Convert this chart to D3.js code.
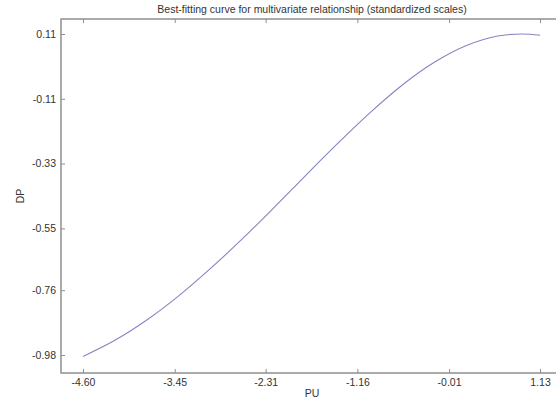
<!DOCTYPE html>
<html lang="en">
  <head>
    <meta charset="UTF-8" />
    <title>Best-fitting curve</title>
    <script src="https://d3js.org/d3.v7.min.js"></script>
    <style>
      body {
        margin: 0;
        background: #fff;
        font-family: "Liberation Sans", Arial, sans-serif;
      }
      .tick-label {
        font-size: 10.5px;
        fill: #333;
      }
      .frame {
        stroke: #8f8f8f;
        stroke-width: 1.5;
        fill: none;
      }
    </style>
  </head>
  <body>
    <svg width="556" height="401"></svg>

    <script>
      // tick labels as printed on the chart
      const xTicks = [-4.6, -3.45, -2.31, -1.16, -0.01, 1.13];
      const yTicks = [0.11, -0.11, -0.33, -0.55, -0.76, -0.98];

      // points
      const puValues = [-4.6, -4.2, -3.8, -3.4, -3.0, -2.6, -2.2, -1.8, -1.4, -1.0, -0.6, -0.2, 0.2, 0.6, 0.9, 1.13];
      const dpValues = [-0.985, -0.93, -0.861, -0.779, -0.686, -0.585, -0.478, -0.368, -0.26, -0.157, -0.064, 0.013, 0.07, 0.103, 0.11, 0.106];

      const svg = d3.select("svg");

      // plot box (right side runs past the picture edge)
      const box = { left: 61, top: 19, right: 563, bottom: 373 };

      const x = d3.scaleLinear().domain([-4.6, 1.13]).range([83, 540]);
      const y = d3.scaleLinear().domain([-0.98, 0.11]).range([355, 34]);

      const fmt = (d) => d3.format(".2f")(d).replace("−", "-");

      // frame
      svg
        .append("rect")
        .attr("class", "frame")
        .attr("x", box.left)
        .attr("y", box.top)
        .attr("width", box.right - box.left)
        .attr("height", box.bottom - box.top);

      // bottom axis, ticks pointing inward
      const xAxis = svg
        .append("g")
        .attr("transform", `translate(0,${box.bottom})`)
        .call(d3.axisBottom(x).tickValues(xTicks).tickSize(-4).tickFormat(fmt));
      xAxis.select(".domain").remove();
      xAxis
        .selectAll("text")
        .attr("class", "tick-label")
        .attr("y", 6)
        .attr("dy", "0.71em")
        .style("font-family", "'Liberation Sans', Arial, sans-serif");

      // top mirror ticks
      const xTop = svg
        .append("g")
        .attr("transform", `translate(0,${box.top})`)
        .call(d3.axisTop(x).tickValues(xTicks).tickSize(-4).tickFormat(""));
      xTop.select(".domain").remove();

      // left axis
      const yAxis = svg
        .append("g")
        .attr("transform", `translate(${box.left},0)`)
        .call(d3.axisLeft(y).tickValues(yTicks).tickSize(-4).tickFormat(fmt));
      yAxis.select(".domain").remove();
      yAxis
        .selectAll("text")
        .attr("class", "tick-label")
        .attr("x", -5)
        .style("font-family", "'Liberation Sans', Arial, sans-serif");

      svg.selectAll(".tick line").attr("stroke", "#8f8f8f");

      // fitted curve
      const line = d3
        .line()
        .x((d, i) => x(puValues[i]))
        .y((d) => y(d))
        .curve(d3.curveCatmullRom);

      svg
        .append("path")
        .datum(dpValues)
        .attr("d", line)
        .attr("fill", "none")
        .attr("stroke", "#8585c2")
        .attr("stroke-width", 1.1);

      // title and axis labels
      svg
        .append("text")
        .attr("x", (box.left + box.right) / 2)
        .attr("y", 13)
        .attr("text-anchor", "middle")
        .attr("font-size", 10.5)
        .attr("fill", "#333")
        .text("Best-fitting curve for multivariate relationship (standardized scales)");

      svg
        .append("text")
        .attr("x", (box.left + box.right) / 2)
        .attr("y", 397)
        .attr("text-anchor", "middle")
        .attr("font-size", 10.5)
        .attr("fill", "#333")
        .text("PU");

      svg
        .append("text")
        .attr("transform", `translate(24,${(box.top + box.bottom) / 2}) rotate(-90)`)
        .attr("text-anchor", "middle")
        .attr("font-size", 10.5)
        .attr("fill", "#333")
        .text("DP");
    </script>
  </body>
</html>
